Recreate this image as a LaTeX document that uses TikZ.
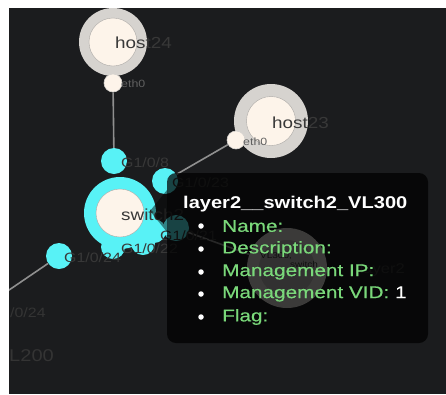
\documentclass[tikz,border=0pt]{standalone}
\usepackage{fontspec}
\setmainfont[FakeStretch=1.18]{Liberation Sans}
\newfontfamily\tipfont[FakeStretch=1.22,FakeBold=0.5]{Liberation Sans}
\definecolor{bg}{HTML}{1B1C1E}
\definecolor{cyanport}{HTML}{58F2F6}
\definecolor{cream}{HTML}{FDF4EA}
\definecolor{ringgray}{HTML}{D6D3CF}
\definecolor{linkgray}{HTML}{8F8F8F}
\definecolor{lbl}{HTML}{383838}
\definecolor{tipgreen}{HTML}{7AD87A}
\tikzset{
  hostring/.style={circle, fill=ringgray, inner sep=0pt, minimum size=#1},
  hostcore/.style={circle, fill=cream, draw=ringgray!80!black, line width=0.4pt, inner sep=0pt, minimum size=#1},
  switchring/.style={circle, fill=cyanport, inner sep=0pt, minimum size=72pt},
  port/.style={circle, fill=cyanport, inner sep=0pt, minimum size=26pt},
  ethport/.style={circle, fill=cream, draw=ringgray, line width=0.6pt, inner sep=0pt, minimum size=18pt},
  link/.style={draw=linkgray, line width=1.6pt},
  biglbl/.style={text=lbl, font=\fontsize{16}{16}\selectfont, inner sep=0pt, anchor=west},
  portlbl/.style={text=lbl, font=\fontsize{13.5}{13.5}\selectfont, inner sep=0pt, anchor=west},
  ethlbl/.style={text=lbl!80!white, font=\fontsize{10.5}{10.5}\selectfont, inner sep=0pt, anchor=west},
  dimlbl/.style={text=lbl!85!bg, inner sep=0pt, anchor=west},
  tipbox/.style={fill=black, fill opacity=0.72, rounded corners=9pt, inner sep=0pt},
  tiptitle/.style={text=white, font=\bfseries\fontsize{17}{17}\selectfont, inner sep=0pt, anchor=west},
  tipitem/.style={text=tipgreen, font=\tipfont\fontsize{17}{17}\selectfont, inner sep=0pt, anchor=west},
  bullet/.style={circle, fill=white, inner sep=0pt, minimum size=5.5pt},
}
\begin{document}
\begin{tikzpicture}[x=1pt,y=-1pt]
\useasboundingbox (0,0) rectangle (446,394);
\fill[white] (0,0) rectangle (446,394);
\begin{scope}
\clip (9,8) rectangle (446,394);
\fill[bg] (9,8) rectangle (446,394);

\coordinate (offL) at (-60,337);

% host24
\node[hostring=68pt] (h24) at (113,42) {};
\node[hostcore=48pt] (h24c) at (h24) {};
\node[ethport] (e24) at (113,83) {};

% host23
\node[hostring=74pt] (h23) at (271,121) {};
\node[hostcore=49pt] (h23c) at (h23) {};
\node[ethport] (e23) at (236,140) {};

% gray node behind tooltip
\node[hostring=80pt] (gl) at (287,268) {};
\node[circle, fill=ringgray!85!black, inner sep=0pt, minimum size=56pt] (glc) at (gl) {};

% switch2 ports
\node[port] (p8) at (114,161) {};
\node[port] (p23) at (165,181) {};
\node[port] (p24) at (59,256) {};
\node[port] (pt) at (176,228) {};

% links
\draw[link] (e24) -- (p8);
\draw[link] (p23) -- (e23);
\draw[link] (p24) -- (offL);
\draw[link] (pt) -- (gl);

% switch2
\node[switchring] (sw) at (120,213) {};
\node[port, minimum size=24pt] (pb1) at (113,247) {};
\node[port, minimum size=24pt] (pb2) at (143,243) {};
\node[port, minimum size=24pt] (pb3) at (154,231) {};
\node[hostcore=48pt] (swc) at (sw) {};

% labels
\node[biglbl] (h24l) at (115,43) {host24};
\node[ethlbl] (e24l) at (121,84) {eth0};
\node[biglbl] (h23l) at (272,123) {host23};
\node[ethlbl] (e23l) at (243,142) {eth0};
\node[text=lbl, font=\fontsize{8.5}{8.5}\selectfont, inner sep=0pt] (gll1) at (276,256) {VL300,};
\node[text=lbl, font=\fontsize{8.5}{8.5}\selectfont, inner sep=0pt] (gll2) at (304,264) {switch};
\node[text=lbl, font=\fontsize{14}{14}\selectfont, inner sep=0pt, anchor=east] (gll3) at (405,270) {layer2};

\node[biglbl] (swl) at (121,215) {switch2};
\node[portlbl] (p8l) at (121,163) {G1/0/8};
\node[portlbl] (p23l) at (172,183) {G1/0/23};
\node[portlbl] (p24l) at (64,258) {G1/0/24};
\node[portlbl] (pb2l) at (121,249) {G1/0/22};
\node[portlbl] (ptl) at (160,236) {G1/0/21};

% cut-off labels of nodes beyond the left edge
\node[dimlbl, font=\fontsize{13.5}{13.5}\selectfont] (offlbl1) at (10,313) {/0/24};
\node[dimlbl, font=\fontsize{17}{17}\selectfont] (offlbl2) at (9,356) {L200};

% tooltip
\fill[black, fill opacity=0.45] (167,190) -- (150,211) -- (167,232) -- cycle;
\node[tipbox, minimum width=261pt, minimum height=170pt] (tip) at (297.5,258) {};
\node[tiptitle] (tt) at (183,204) {layer2\_\_switch2\_VL300};
\node[bullet] (b1) at (201,226) {};
\node[bullet] (b2) at (201,249) {};
\node[bullet] (b3) at (201,272) {};
\node[bullet] (b4) at (201,294) {};
\node[bullet] (b5) at (201,317) {};
\node[tipitem] (i1) at (222,226) {Name:};
\node[tipitem] (i2) at (222,249) {Description:};
\node[tipitem] (i3) at (222,272) {Management IP:};
\node[tipitem] (i4) at (222,294) {Management VID: \textcolor{white}{1}};
\node[tipitem] (i5) at (222,317) {Flag:};
\end{scope}
\end{tikzpicture}
\end{document}
